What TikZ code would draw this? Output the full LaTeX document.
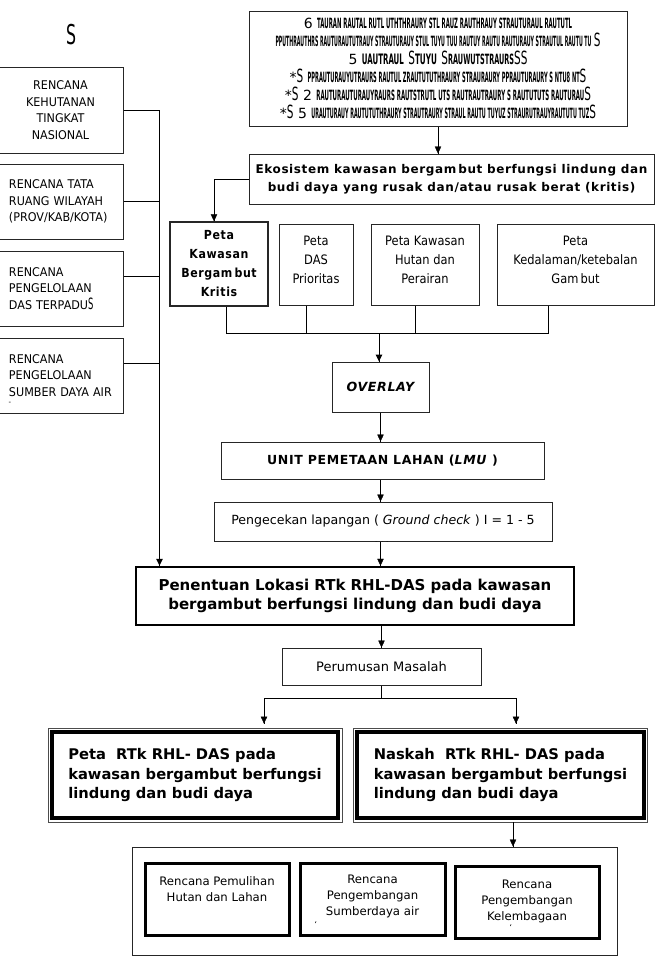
\documentclass[tikz,border=0pt]{standalone}
\usepackage{fontspec}
\usepackage{graphicx}
\setmainfont{DejaVu Sans}
\newfontfamily\narrowfont{DejaVu Sans}[FakeStretch=0.88]
\newfontfamily\planfont{DejaVu Sans}[FakeStretch=0.93]
\newfontfamily\spaced{DejaVu Sans}[LetterSpace=5]
\newfontfamily\spacednarrow{DejaVu Sans}[FakeStretch=0.88,LetterSpace=5]
\usetikzlibrary{arrows.meta}
\usetikzlibrary{decorations.markings}
\usetikzlibrary{positioning}
\tikzset{->/.style = {decoration={markings,
                                  mark=at position 1 with {\arrow{Triangle[length=7pt,width=6.5pt]}}},
                      postaction={decorate}}}
\tikzset{box/.style = {draw=black!85, line width=1pt, rectangle, inner sep=2pt, align=center},
         plan/.style = {box, font=\planfont\fontsize{12}{16.5}\selectfont},
         peta/.style = {box, minimum height=81pt, font=\narrowfont\fontsize{13}{19}\selectfont},
         rtk/.style = {box, line width=0.8pt, draw=black!70, minimum width=294pt, minimum height=94pt,
                       align=left, font=\bfseries\fontsize{14.7}{19.5}\selectfont},
         sub/.style = {box, line width=3pt, draw=black, minimum height=72pt,
                       font=\fontsize{11.7}{16}\selectfont}}
\newcommand{\smudge}[2]{\resizebox{#1pt}{10.5pt}{\bfseries #2}}
\newcommand{\tallS}{\scalebox{0.75}[1.3]{S}}

\begin{document}
\begin{tikzpicture}[x=1pt, y=-1pt]
    \useasboundingbox (0,0) rectangle (658,969);
    \node [box, minimum width=378pt, minimum height=115pt, font=\fontsize{14}{18}\selectfont] (src) at (438,68.5)
      {6~\smudge{255}{TAURAN RAUTAL RUTL UTHTHRAURY STL RAUZ RAUTHRAUY STRAUTURAUL RAUTUTL}\\
       \smudge{316}{PPUTHRAUTHRS RAUTURAUTUTRAUY STRAUTURAUY STUL TUYU TUU RAUTUY RAUTU RAUTURAUY STRAUTUL RAUTU TU}\,\tallS\\
       5~\smudge{42}{UAUTRAUL}~\tallS\smudge{22}{TUYU}~\tallS\smudge{66}{RAUWUTSTRAURS}\tallS\tallS\\
       *\tallS~\smudge{272}{PPRAUTURAUYUTRAURS RAUTUL ZRAUTUTUTHRAURY STRAURAURY PPRAUTURAURY S NTU8 NT}\tallS\\
       *\tallS~2~\smudge{268}{RAUTURAUTURAUYRAURS RAUTSTRUTL UTS RAUTRAUTRAURY S RAUTUTUTS RAUTURAU}\tallS\\
       *\tallS~5~\smudge{278}{URAUTURAUY RAUTUTUTHRAURY STRAUTRAURY STRAUL RAUTU TUYUZ STRAURUTRAUYRAUTUTU TUZ}\tallS};
    \node [box, minimum width=405pt, minimum height=50pt, font=\spaced\bfseries\fontsize{12}{18}\selectfont] (eko) at (451.5,179)
      {Ekosistem kawasan bergam\,but berfungsi lindung dan\\budi daya yang rusak dan/atau rusak berat (kritis)};
    \node [peta, line width=1.5pt, minimum width=98pt, minimum height=84pt, font=\spacednarrow\bfseries\fontsize{12.5}{19}\selectfont] (p1) at (219,264)
      {Peta\\Kawasan\\Bergam\,but\\Kritis};
    \node [peta, minimum width=74pt, text depth=10pt] (p2) at (316,264.5) {Peta\\DAS\\Prioritas};
    \node [peta, minimum width=108pt, text depth=10pt] (p3) at (425,264.5) {Peta Kawasan\\Hutan dan\\Perairan};
    \node [peta, minimum width=157pt, text depth=10pt] (p4) at (575.5,264.5) {Peta\\Kedalaman/ketebalan\\Gam\,but};
    \node [box, minimum width=97pt, minimum height=50pt, font=\spaced\bfseries\itshape\fontsize{12.6}{16}\selectfont] (ov) at (380.5,387) {OVERLAY};
    \node [box, minimum width=323pt, minimum height=37pt, font=\spaced\bfseries\fontsize{12.5}{16}\selectfont] (lmu) at (382.5,460.5)
      {UNIT PEMETAAN LAHAN (\textit{LMU} )};
    \node [box, minimum width=338pt, minimum height=39pt, font=\fontsize{12.6}{16}\selectfont] (pg) at (383,521.5)
      {Pengecekan lapangan ( \textit{Ground check} ) I = 1 - 5};
    \begin{scope}
      \clip (pg.north west) rectangle (pg.south east);
      \node [font=\fontsize{12.6}{16}\selectfont] (pgrest) at (382,548) {\%)};
    \end{scope}
    \node [box, line width=2.5pt, draw=black, minimum width=438pt, minimum height=58pt, font=\bfseries\fontsize{15}{19}\selectfont] (pen) at (355,596)
      {Penentuan Lokasi RTk RHL-DAS pada kawasan\\bergambut berfungsi lindung dan budi daya};
    \node [box, minimum width=199pt, minimum height=37pt, font=\fontsize{13}{16}\selectfont] (per) at (381.5,666.5) {Perumusan Masalah};
    \node [rtk] (peta) at (195,775)
      {Peta\ \ RTk RHL- DAS pada\\kawasan bergambut berfungsi\\lindung dan budi daya};
    \node [rtk] (nask) at (500.5,775)
      {Naskah\ \ RTk RHL- DAS pada\\kawasan bergambut berfungsi\\lindung dan budi daya};
    \draw [line width=4pt] ([shift={(4pt,-4pt)}]peta.north west) rectangle ([shift={(-4pt,4pt)}]peta.south east);
    \draw [line width=4pt] ([shift={(4pt,-4pt)}]nask.north west) rectangle ([shift={(-4pt,4pt)}]nask.south east);
    \node [box, minimum width=485pt, minimum height=108pt] (pulih) at (374.5,901) {};
    \node [sub, minimum width=144pt, text depth=20pt] (r1) at (217,899.5) {Rencana Pemulihan\\Hutan dan Lahan};
    \node [sub, minimum width=145pt, text depth=8pt] (r2) at (372.5,899.5) {Rencana\\Pengembangan\\Sumberdaya air};
    \node [sub, minimum width=144pt, text depth=4pt] (r3) at (527,902) {Rencana\\Pengembangan\\Kelembagaan};
    \node [font=\fontsize{8}{8}\selectfont, inner sep=0pt] (r2mark) at (316,925) {\textquoteleft};
    \node [font=\fontsize{8}{8}\selectfont, inner sep=0pt] (r3mark) at (511,928) {\textquoteleft};
    \node [font=\fontsize{21}{21}\selectfont] (sign) at (71,35) {\tallS};
    \node [plan, minimum width=125pt, minimum height=86pt] (l1) at (60.5,110) {RENCANA\\KEHUTANAN\\TINGKAT\\NASIONAL};
    \node [plan, minimum width=125pt, minimum height=75pt, text width=103pt, align=left] (l2) at (60.5,201.5)
      {RENCANA TATA\\RUANG WILAYAH\\(PROV/KAB/KOTA)};
    \node [plan, minimum width=125pt, minimum height=75pt, text width=103pt, align=left] (l3) at (60.5,288.5)
      {RENCANA\\PENGELOLAAN\\DAS TERPADU\tallS};
    \node [plan, minimum width=125pt, minimum height=75pt, text width=103pt, align=left] (l4) at (60.5,375.5)
      {RENCANA\\PENGELOLAAN\\SUMBER DAYA AIR};
    \node [font=\fontsize{7}{7}\selectfont, inner sep=0pt] (l4mark) at (10,403) {-};
    \draw [->] (src.south) -- (src.south |- eko.north);
    \draw [->] (eko.west) -| ([xshift=-5pt]p1.north);
    \coordinate (bus) at (379,333);
    \draw [line width=1pt] ([xshift=7pt]p1.south) |- (bus);
    \draw [line width=1pt] ([xshift=-10pt]p2.south) |- (bus);
    \draw [line width=1pt] ([xshift=-10pt]p3.south) |- (bus);
    \draw [line width=1pt] ([xshift=-27.5pt]p4.south) |- (bus);
    \draw [->, line width=1pt] (bus) -- (bus |- ov.north);
    \draw [->] (ov.south) -- (ov.south |- lmu.north);
    \draw [->] (lmu.south -| ov.south) -- (ov.south |- pg.north);
    \draw [->] (pg.south -| ov.south) -- (ov.south |- pen.north);
    \draw [->] (pen.south -| per.north) -- (per.north);
    \draw (per.south) -- ++(0,13) coordinate (split);
    \draw [->] (split) -| ([xshift=69pt, yshift=4pt]peta.north);
    \draw [->] (split) -| ([xshift=15.5pt, yshift=4pt]nask.north);
    \draw [->] ([xshift=12.5pt]nask.south) -- ([xshift=12.5pt]nask.south |- pulih.north);
    \draw [line width=1pt] (l1.east) -- ++(36,0) coordinate (lbus);
    \draw [->, line width=1pt] (lbus) -- (lbus |- pen.north);
    \draw [line width=1pt] (l2.east) -- (l2.east -| lbus);
    \draw [line width=1pt] ([yshift=12.5pt]l3.east) -- ([yshift=12.5pt]l3.east -| lbus);
    \draw [line width=1pt] ([yshift=12.5pt]l4.east) -- ([yshift=12.5pt]l4.east -| lbus);
\end{tikzpicture}
\end{document}
